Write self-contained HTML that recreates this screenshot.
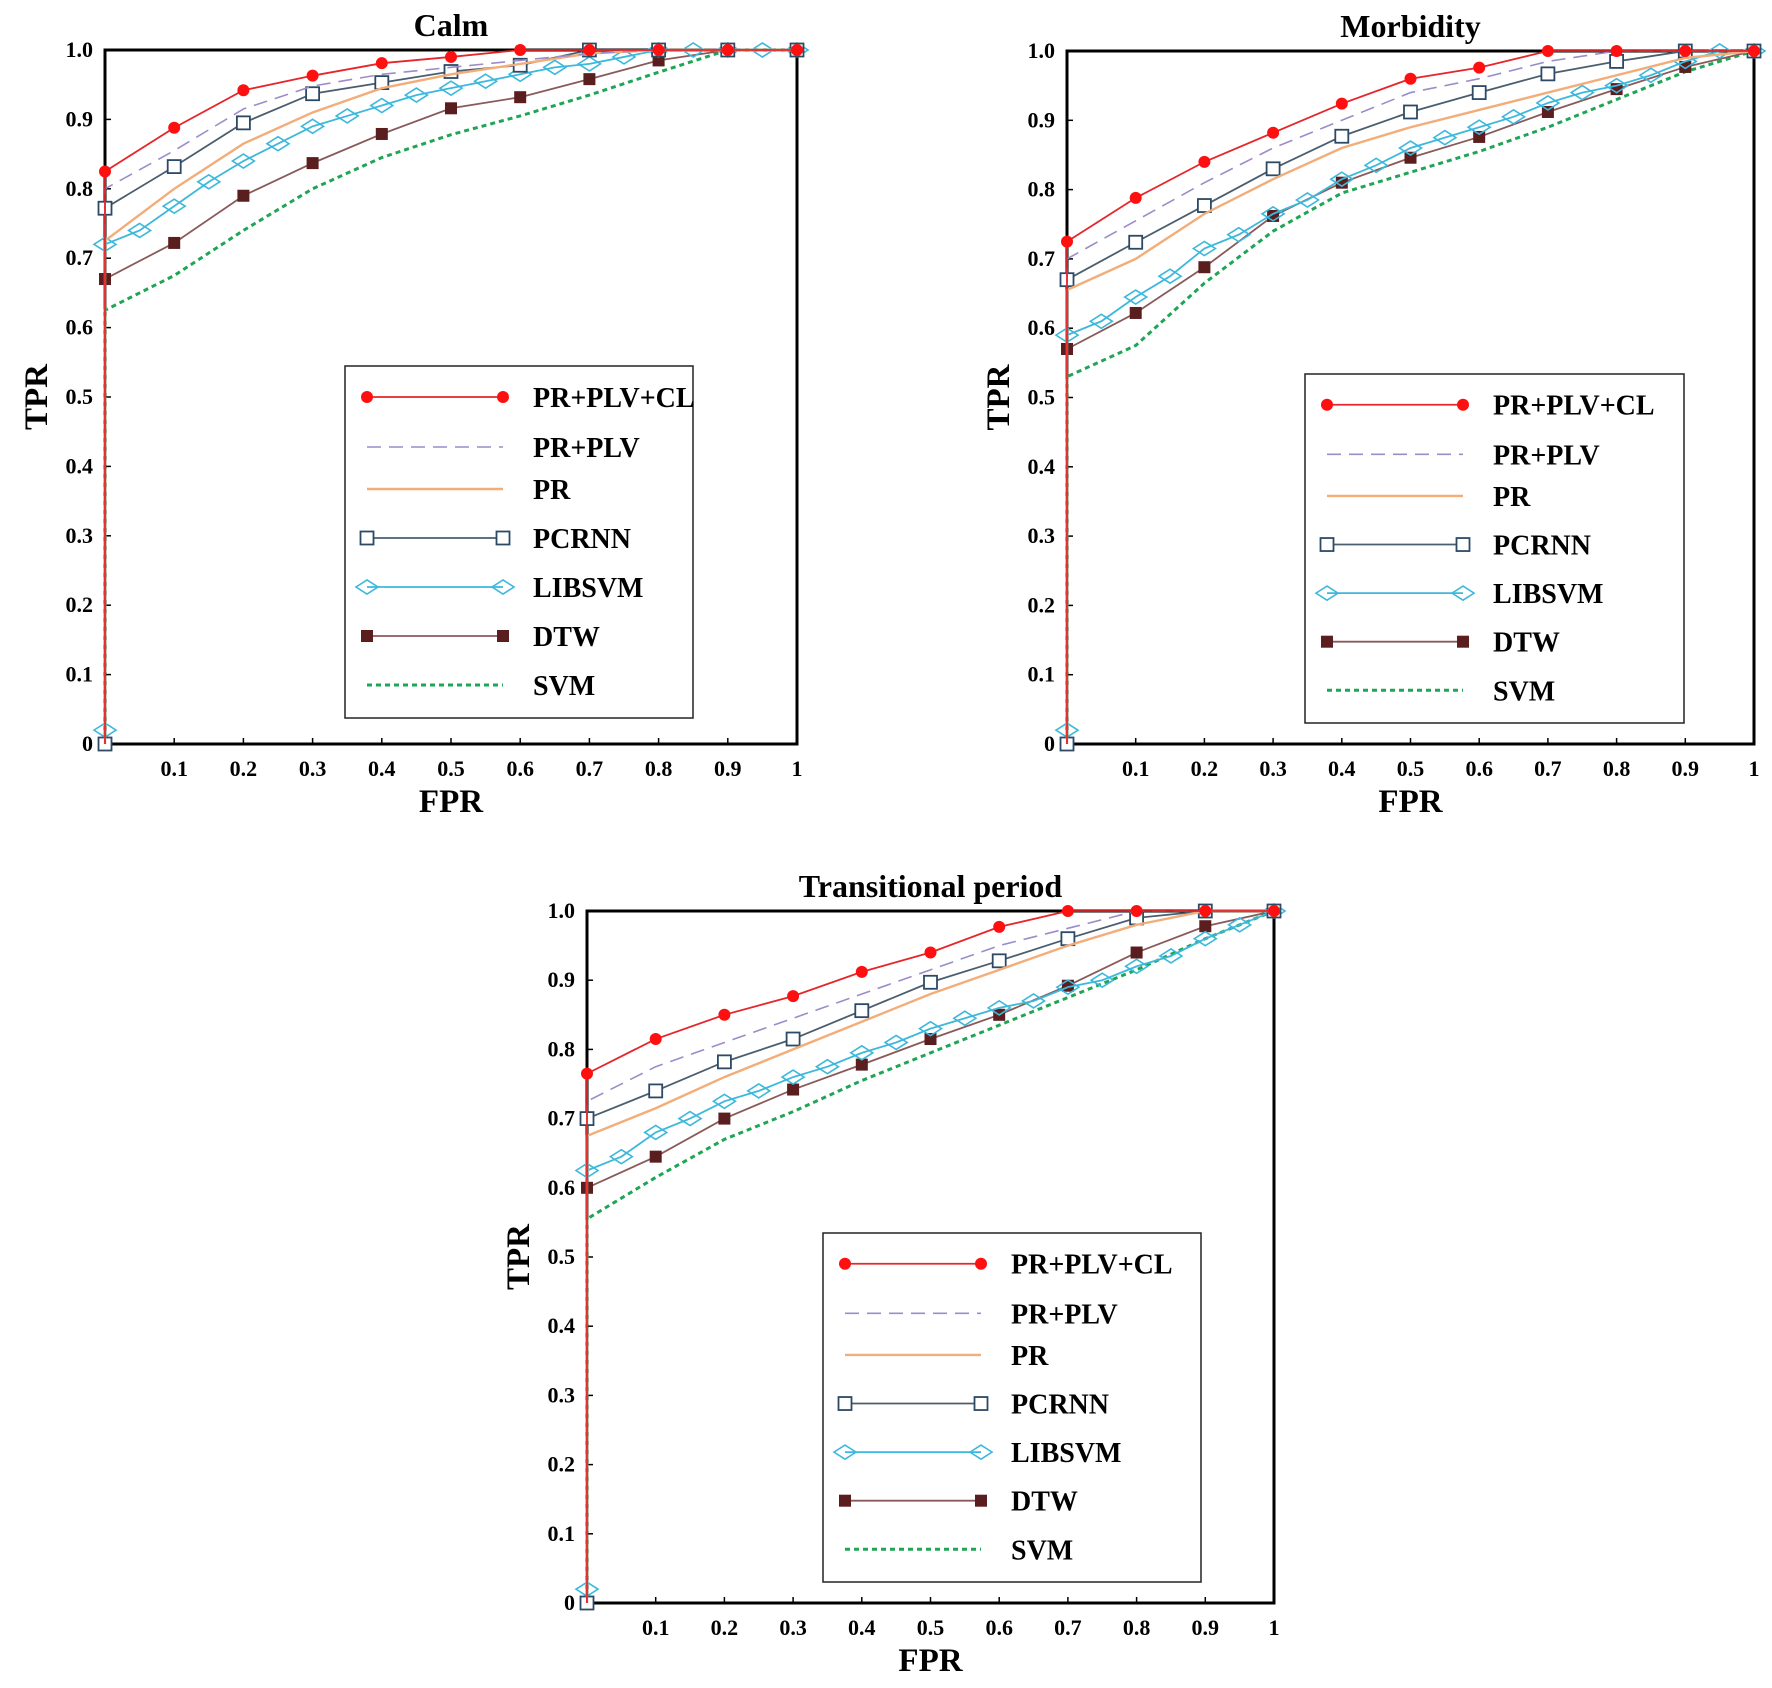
<!DOCTYPE html>
<html><head><meta charset="utf-8"><style>
html,body{margin:0;padding:0;background:#fff;}
svg{display:block;font-family:"Liberation Serif",serif;font-weight:bold;}
</style></head><body>
<svg id="fig" width="1772" height="1688" viewBox="0 0 1772 1688"></svg>
<script>
const fprTicks = [0,0.1,0.2,0.3,0.4,0.5,0.6,0.7,0.8,0.9,1];
const fprTickLabels = ["","0.1","0.2","0.3","0.4","0.5","0.6","0.7","0.8","0.9","1"];
const tprTicks = [0,0.1,0.2,0.3,0.4,0.5,0.6,0.7,0.8,0.9,1];
const tprTickLabels = ["0","0.1","0.2","0.3","0.4","0.5","0.6","0.7","0.8","0.9","1.0"];
const fprPoints = [0,0.1,0.2,0.3,0.4,0.5,0.6,0.7,0.8,0.9,1];
const fprLib = [0,0.05,0.1,0.15,0.2,0.25,0.3,0.35,0.4,0.45,0.5,0.55,0.6,0.65,0.7,0.75,0.8,0.85,0.9,0.95,1];
const seriesNames = ["PR+PLV+CL","PR+PLV","PR","PCRNN","LIBSVM","DTW","SVM"];

const calmCL    = [0.825,0.888,0.942,0.963,0.981,0.99,1,1,1,1,1];
const calmPLV   = [0.80,0.855,0.915,0.948,0.965,0.975,0.985,0.995,1,1,1];
const calmPR    = [0.725,0.80,0.865,0.91,0.945,0.965,0.98,0.995,1,1,1];
const calmPCRNN = [0.772,0.832,0.895,0.937,0.953,0.969,0.978,1,1,1,1];
const calmLIB   = [0.72,0.74,0.775,0.81,0.84,0.865,0.89,0.905,0.92,0.935,0.945,0.955,0.965,0.975,0.98,0.99,1,1,1,1,1];
const calmDTW   = [0.67,0.722,0.79,0.837,0.879,0.916,0.932,0.958,0.985,1,1];
const calmSVM   = [0.625,0.675,0.74,0.80,0.845,0.878,0.905,0.935,0.968,1,1];

const morbCL    = [0.725,0.788,0.84,0.882,0.924,0.96,0.976,1,1,1,1];
const morbPLV   = [0.70,0.755,0.81,0.86,0.90,0.94,0.96,0.985,1,1,1];
const morbPR    = [0.655,0.70,0.765,0.815,0.86,0.89,0.915,0.94,0.965,0.99,1];
const morbPCRNN = [0.67,0.724,0.777,0.83,0.877,0.912,0.94,0.967,0.985,1,1];
const morbLIB   = [0.59,0.61,0.645,0.675,0.715,0.735,0.765,0.785,0.815,0.835,0.86,0.875,0.89,0.905,0.925,0.94,0.95,0.965,0.985,1,1];
const morbDTW   = [0.57,0.622,0.688,0.762,0.81,0.846,0.876,0.912,0.945,0.977,1];
const morbSVM   = [0.53,0.575,0.665,0.74,0.795,0.825,0.855,0.89,0.93,0.97,1];

const tranCL    = [0.765,0.815,0.85,0.877,0.912,0.94,0.977,1,1,1,1];
const tranPLV   = [0.725,0.775,0.81,0.845,0.88,0.915,0.95,0.975,1,1,1];
const tranPR    = [0.675,0.715,0.76,0.80,0.84,0.88,0.915,0.95,0.98,1,1];
const tranPCRNN = [0.70,0.74,0.782,0.815,0.856,0.897,0.928,0.96,0.99,1,1];
const tranLIB   = [0.625,0.645,0.68,0.70,0.725,0.74,0.76,0.775,0.795,0.81,0.83,0.845,0.86,0.87,0.89,0.90,0.92,0.935,0.96,0.98,1];
const tranDTW   = [0.60,0.645,0.70,0.742,0.778,0.815,0.85,0.892,0.94,0.978,1];
const tranSVM   = [0.555,0.615,0.67,0.71,0.755,0.795,0.835,0.875,0.915,0.96,1];

const NS="http://www.w3.org/2000/svg";
const svg=document.getElementById('fig');
function mk(tag,attrs,parent){const e=document.createElementNS(NS,tag);for(const k in attrs)e.setAttribute(k,attrs[k]);(parent||svg).appendChild(e);return e;}

const styles=[
 {c:'#e5262a',mc:'#ff1010',dash:'',m:'circle',w:1.8},
 {c:'#9c8cc8',mc:null,dash:'14,8',m:null,w:1.6},
 {c:'#f2ad78',mc:null,dash:'',m:null,w:2.4},
 {c:'#4a5e6e',mc:'#2c4a66',dash:'',m:'square',w:1.8},
 {c:'#3cb8dc',mc:'#3cb8dc',dash:'',m:'diamond',w:1.8},
 {c:'#8a5a5a',mc:'#5a1e1e',dash:'',m:'fsquare',w:1.8},
 {c:'#1ea555',mc:null,dash:'5,4',m:null,w:3}
];

function marker(g,type,x,y,st,name){
 let e;
 if(type==='circle') e=mk('circle',{cx:x,cy:y,r:6,fill:st.mc},g);
 else if(type==='square') e=mk('rect',{x:x-6.5,y:y-6.5,width:13,height:13,fill:'#fff',stroke:st.mc,'stroke-width':1.8},g);
 else if(type==='fsquare') e=mk('rect',{x:x-6,y:y-6,width:12,height:12,fill:st.mc},g);
 else if(type==='diamond') e=mk('path',{d:`M${x-11},${y} L${x},${y-7} L${x+11},${y} L${x},${y+7} Z`,fill:'none',stroke:st.mc,'stroke-width':1.6},g);
 
 
}

function panel(cfg){
 const {x0,x1,y0,y1,title,data,leg}=cfg;
 const g=mk('g',{});
 
 
 const sx=v=>x0+v*(x1-x0), sy=v=>y0-v*(y0-y1);
 const t=mk('text',{x:(x0+x1)/2,y:y1-14,'text-anchor':'middle','font-size':32},g);t.textContent=title;
 
 
 tprTicks.forEach((v,i)=>{const tx=mk('text',{x:x0-12,y:sy(v)+7,'text-anchor':'end','font-size':22},g);tx.textContent=tprTickLabels[i];
  
  
  mk('line',{x1:x0,x2:x0+6,y1:sy(v),y2:sy(v),stroke:'#000','stroke-width':1.5},g);});
 fprTicks.forEach((v,i)=>{const tx=mk('text',{x:sx(v),y:y0+32,'text-anchor':'middle','font-size':22},g);tx.textContent=fprTickLabels[i];
  
  
  mk('line',{x1:sx(v),x2:sx(v),y1:y0,y2:y0-6,stroke:'#000','stroke-width':1.5},g);});
 const xt=mk('text',{x:(x0+x1)/2,y:y0+68,'text-anchor':'middle','font-size':33},g);xt.textContent='FPR';
 
 
 const yt=mk('text',{x:0,y:0,'text-anchor':'middle','font-size':33,transform:`translate(${x0-58},${(y0+y1)/2}) rotate(-90)`},g);yt.textContent='TPR';
 
 
 const fr=mk('rect',{x:x0,y:y1,width:x1-x0,height:y0-y1,fill:'none',stroke:'#000','stroke-width':3},g);
 
 
 for(let s=6;s>=0;s--){
  const st=styles[s], vals=data[s], xs=(s===4)?fprLib:fprPoints;
  let d=`M${sx(0)},${sy(s===4?0.02:0)}`;
  vals.forEach((v,i)=>{d+=` L${sx(xs[i])},${sy(v)}`;});
  const p=mk('path',{d,fill:'none',stroke:st.c,'stroke-width':st.w,'stroke-dasharray':st.dash},g);
  
  
  if(st.m){
   if(s===4) marker(g,'diamond',sx(0),sy(0.02),st,'libsvm');
   if(s===5||s===3) marker(g,st.m,sx(0),sy(0),st,seriesNames[s].toLowerCase());
   vals.forEach((v,i)=>{ marker(g,st.m,sx(xs[i]),sy(v),st,seriesNames[s].toLowerCase().replace(/\+/g,'-'));});
  }
 }
 const L=mk('g',{},g);
 
 
 mk('rect',{x:leg.x,y:leg.y,width:leg.w,height:leg.h,fill:'#fff',stroke:'#222','stroke-width':1.5},L);
 const offs=[31,81,123,172,221,270,319].map(v=>v*leg.h/352);
 seriesNames.forEach((n,i)=>{
  const st=styles[i], yy=leg.y+offs[i], lx1=leg.x+22, lx2=leg.x+158;
  const e=mk('g',{},L);
  
  
  mk('line',{x1:lx1,x2:lx2,y1:yy,y2:yy,stroke:st.c,'stroke-width':st.w,'stroke-dasharray':st.dash},e);
  if(st.m){marker(e,st.m,lx1,yy,st,'legend');marker(e,st.m,lx2,yy,st,'legend');}
  const tx=mk('text',{x:leg.x+188,y:yy+10,'font-size':28},e);tx.textContent=n;
 });
}

panel({id:'calm',x0:105,x1:797,y0:744,y1:50,title:'Calm',
 data:[calmCL,calmPLV,calmPR,calmPCRNN,calmLIB,calmDTW,calmSVM],
 leg:{x:345,y:366,w:348,h:352}});
panel({id:'morbidity',x0:1067,x1:1754,y0:744,y1:51,title:'Morbidity',
 data:[morbCL,morbPLV,morbPR,morbPCRNN,morbLIB,morbDTW,morbSVM],
 leg:{x:1305,y:374,w:379,h:349}});
panel({id:'transitional',x0:587,x1:1274,y0:1603,y1:911,title:'Transitional period',
 data:[tranCL,tranPLV,tranPR,tranPCRNN,tranLIB,tranDTW,tranSVM],
 leg:{x:823,y:1233,w:378,h:349}});
</script>
</body></html>
